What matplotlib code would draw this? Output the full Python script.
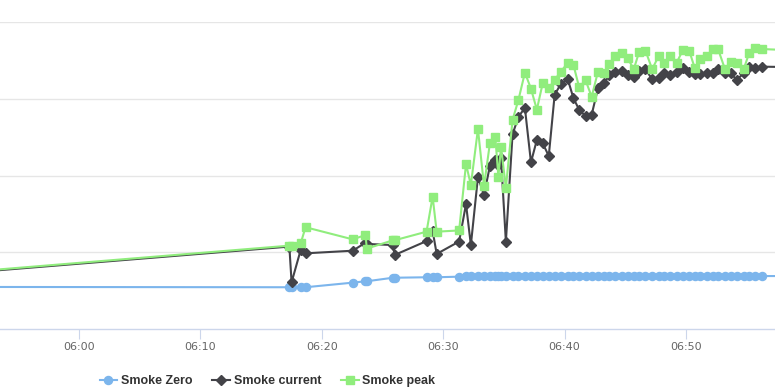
import pandas as pd
import matplotlib
matplotlib.use("Agg")
import matplotlib.pyplot as plt
import matplotlib.dates as mdates
from matplotlib.lines import Line2D

# ── Data ─────────────────────────────────────────────────────────────────────
times = [
    "05:50:00", "06:17:20", "06:17:31", "06:18:16", "06:18:40", "06:22:33",
    "06:23:36", "06:23:43", "06:25:52", "06:26:00", "06:28:38", "06:29:08",
    "06:29:28", "06:31:19", "06:31:53", "06:32:17", "06:32:52", "06:33:22",
    "06:33:51", "06:34:18", "06:34:33", "06:34:46", "06:35:10", "06:35:43",
    "06:36:12", "06:36:44", "06:37:14", "06:37:43", "06:38:12", "06:38:42",
    "06:39:11", "06:39:41", "06:40:16", "06:40:44", "06:41:12", "06:41:44",
    "06:42:14", "06:42:45", "06:43:15", "06:43:42", "06:44:11", "06:44:42",
    "06:45:12", "06:45:42", "06:46:09", "06:46:40", "06:47:13", "06:47:45",
    "06:48:11", "06:48:42", "06:49:14", "06:49:45", "06:50:16", "06:50:44",
    "06:51:10", "06:51:42", "06:52:13", "06:52:39", "06:53:13", "06:53:43",
    "06:54:10", "06:54:45", "06:55:13", "06:55:43", "06:56:14", "06:58:00",
]

smoke_zero = [
    27.4, 27.2, 27.2, 27.6, 27.2, 30.2,
    31.1, 31.1, 33.4, 33.4, 33.7, 33.7,
    33.7, 34.1, 34.5, 34.5, 34.5, 34.5,
    34.5, 34.5, 34.5, 34.5, 34.5, 34.5,
    34.5, 34.5, 34.5, 34.5, 34.5, 34.5,
    34.5, 34.5, 34.5, 34.5, 34.5, 34.5,
    34.5, 34.5, 34.5, 34.5, 34.5, 34.5,
    34.5, 34.5, 34.5, 34.5, 34.5, 34.5,
    34.5, 34.5, 34.5, 34.5, 34.5, 34.5,
    34.5, 34.5, 34.5, 34.5, 34.5, 34.5,
    34.5, 34.5, 34.5, 34.5, 34.5, 34.5,
]

smoke_current = [
    36.1, 53.7, 30.4, 51.5, 49.3, 51.0,
    56.2, 55.4, 54.7, 48.2, 57.3, 64.0,
    48.9, 57.0, 81.4, 54.7, 99.0, 87.3,
    106.2, 110.1, 106.8, 111.2, 56.9, 126.8,
    138.3, 144.0, 108.6, 123.1, 121.0, 112.7,
    152.5, 159.6, 162.7, 150.3, 142.9, 138.6,
    139.6, 156.8, 160.1, 165.5, 167.6, 168.3,
    165.5, 164.4, 168.3, 169.2, 162.7, 163.3,
    166.6, 165.5, 167.6, 169.8, 167.6, 166.1,
    166.1, 166.6, 166.6, 169.2, 166.6, 166.6,
    162.2, 166.6, 170.5, 169.8, 170.9, 170.7,
]

smoke_peak = [
    36.6, 54.3, 54.3, 55.8, 66.3, 58.4,
    61.2, 52.4, 57.8, 57.8, 63.4, 86.2,
    63.4, 64.2, 107.5, 93.8, 130.3, 93.2,
    121.0, 124.8, 99.0, 118.8, 91.9, 136.2,
    149.2, 167.0, 156.6, 142.9, 160.1, 156.8,
    162.2, 167.6, 173.3, 172.0, 157.5, 162.0,
    151.3, 167.6, 166.6, 172.6, 177.9, 180.0,
    176.4, 169.2, 180.7, 181.3, 169.2, 177.9,
    173.1, 177.9, 173.5, 181.8, 181.3, 169.8,
    175.7, 177.9, 182.2, 182.2, 169.2, 174.1,
    173.1, 169.2, 180.0, 182.9, 182.4, 181.8,
]

DAY = "2024-01-01 "
t = pd.to_datetime([DAY + s for s in times])

# ── Style ────────────────────────────────────────────────────────────────────
BLUE = "#7cb5ec"
DARK = "#434348"
GREEN = "#90ed7d"
GRID = "#e6e6e6"
AXIS = "#ccd6eb"

fig = plt.figure(figsize=(7.75, 3.92), dpi=100)
ax = fig.add_axes([0.0, 63 / 392, 1.0, 307 / 392])

ax.plot(t, smoke_zero, color=BLUE, lw=1.5, marker="o", ms=5.8,
        mec=BLUE, mfc=BLUE, zorder=3)
ax.plot(t, smoke_current, color=DARK, lw=1.5, marker="D", ms=4.6,
        mec=DARK, mfc=DARK, zorder=4)
ax.plot(t, smoke_peak, color=GREEN, lw=1.5, marker="s", ms=5.8,
        mec=GREEN, mfc=GREEN, zorder=5)

ax.set_xlim(pd.Timestamp(DAY + "05:53:30"), pd.Timestamp(DAY + "06:57:20"))
ax.set_ylim(0, 200)

ax.set_yticks([50, 100, 150, 200])
ax.yaxis.grid(True, color=GRID, lw=1)
ax.tick_params(axis="y", left=False, labelleft=False)
ax.set_axisbelow(True)

ax.xaxis.set_major_locator(mdates.MinuteLocator(byminute=range(0, 60, 10)))
ax.xaxis.set_major_formatter(mdates.DateFormatter("%H:%M"))
ax.tick_params(axis="x", direction="out", length=7.2, width=0.8,
               color=AXIS, labelcolor="#666666", labelsize=8, pad=2)

for side in ("top", "left", "right"):
    ax.spines[side].set_visible(False)
ax.spines["bottom"].set_color(AXIS)
ax.spines["bottom"].set_linewidth(1)

handles = [
    Line2D([], [], color=BLUE, lw=1.5, marker="o", ms=5.8),
    Line2D([], [], color=DARK, lw=1.5, marker="D", ms=4.6),
    Line2D([], [], color=GREEN, lw=1.5, marker="s", ms=5.8),
]
labels = ["Smoke Zero", "Smoke current", "Smoke peak"]
fig.legend(handles, labels, loc="center left", bbox_to_anchor=(0.122, 0.028),
           ncol=3, frameon=False, handlelength=1.4, handletextpad=0.3,
           columnspacing=1.6, borderaxespad=0,
           prop={"family": "Liberation Sans", "weight": "bold", "size": 9},
           labelcolor="#333333")

fig.savefig("out.png", dpi=100, facecolor="white")
